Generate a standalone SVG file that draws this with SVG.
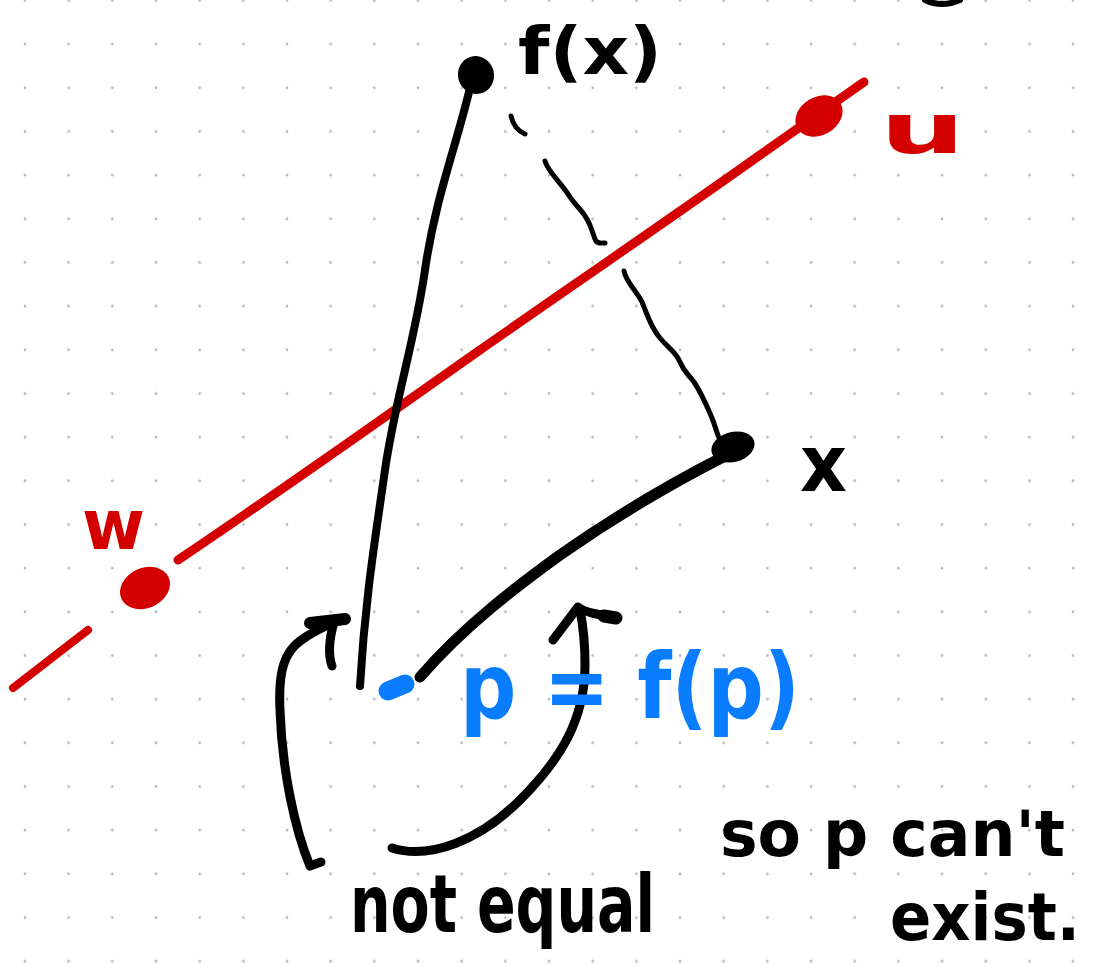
<svg xmlns="http://www.w3.org/2000/svg" width="1095" height="965" viewBox="0 0 1095 965">
  <defs>
    <pattern id="dots" patternUnits="userSpaceOnUse" x="3.17" y="-21.33" width="43.67" height="43.67">
      <circle cx="21.83" cy="21.83" r="1.4" fill="#b8b8b8"/>
    </pattern>
    <style>
      .ink { fill: none; stroke: #000; stroke-linecap: round; stroke-linejoin: round; }
      .red { fill: none; stroke: #d40000; stroke-linecap: round; stroke-linejoin: round; }
      .blue { fill: none; stroke: #0a7dff; stroke-linecap: round; stroke-linejoin: round; }
      .hand { font-family: "DejaVu Sans", "Liberation Sans", sans-serif; font-weight: bold; }
      .t-black { fill: #000; }
      .t-red { fill: #d40000; }
      .t-blue { fill: #0a7dff; }
    </style>
  </defs>
  <rect width="1095" height="965" fill="#ffffff"/>
  <rect width="1095" height="965" fill="url(#dots)"/>

  <g id="connectors">
    <!-- red line through w and u -->
    <path class="red" stroke-width="9" d="M 178,560 C 300,478 420,392 480,350 S 700,198 760,155 L 864,82"/>
    <path class="red" stroke-width="8" d="M 13,688 L 88,630"/>
    <!-- f(x) to p -->
    <path class="ink" stroke-width="8" d="M 470,88 C 455,150 435,200 425,270 S 395,400 385,470 S 365,600 360,686"/>
    <!-- dashed segment f(x) to x -->
    <path class="ink" stroke-width="5" d="M 511,116 C 513,125 518,131 525,134"/>
    <path class="ink" stroke-width="5" d="M 545,161 C 547,170 560,182 568,194 C 574,204 580,208 585,216 C 592,226 593,236 596,241 C 598,244 603,243 605,243"/>
    <path class="ink" stroke-width="5" d="M 624,271 C 626,282 636,290 642,302 C 648,316 650,326 660,338 C 668,348 676,352 680,362 C 684,372 688,374 694,382 C 702,394 706,404 712,418 C 716,428 717,434 720,440"/>
    <!-- x to p -->
    <path class="ink" stroke-width="11" d="M 725,456 C 670,484 610,520 560,555 C 520,584 465,625 420,677"/>
    <!-- arrow 1 -->
    <path class="ink" stroke-width="9" d="M 321,862 L 310,866 C 295,830 282,770 280,710 C 278,670 285,652 300,641 C 312,632 322,627 338,621"/>
    <path class="ink" stroke-width="12" d="M 310,623 L 345,619"/>
    <path class="ink" stroke-width="9" d="M 334,622 C 329,640 328,655 332,666"/>
    <!-- arrow 2 -->
    <path class="ink" stroke-width="9" d="M 392,848 C 430,860 480,840 520,800 C 560,760 585,720 585,665 C 585,640 583,625 580,610"/>
    <path class="ink" stroke-width="9" d="M 553,640 L 578,607 C 586,613 600,615 615,617"/>
    <path class="ink" stroke-width="13" d="M 604,616 L 616,618"/>
    <!-- partial stroke at top -->
    <path class="ink" stroke-width="6" d="M 925,0 Q 942,8 960,0"/>
  </g>

  <g id="node-fx">
    <ellipse cx="476" cy="75" rx="18" ry="19" fill="#000" transform="rotate(-15 476 75)"/>
    <text class="hand t-black" x="518" y="74" font-size="66" textLength="144" lengthAdjust="spacingAndGlyphs">f(x)</text>
  </g>

  <g id="node-x">
    <ellipse cx="733" cy="447" rx="22" ry="15" fill="#000" transform="rotate(-15 733 447)"/>
    <text class="hand t-black" x="800" y="491" font-size="78" textLength="47" lengthAdjust="spacingAndGlyphs">x</text>
  </g>

  <g id="node-u">
    <ellipse cx="819" cy="116" rx="25" ry="19" fill="#d40000" transform="rotate(-30 819 116)"/>
    <text class="hand t-red" x="880" y="153" font-size="70" textLength="85" lengthAdjust="spacingAndGlyphs">u</text>
  </g>

  <g id="node-w">
    <ellipse cx="145" cy="588" rx="26" ry="20" fill="#d40000" transform="rotate(-25 145 588)"/>
    <text class="hand t-red" x="82" y="549" font-size="70" textLength="63" lengthAdjust="spacingAndGlyphs">w</text>
  </g>

  <g id="node-p">
    <path class="blue" stroke-width="19" d="M 388,691 L 405,684"/>
    <text class="hand t-blue" x="460" y="718" font-size="90" textLength="340" lengthAdjust="spacingAndGlyphs">p = f(p)</text>
  </g>

  <g id="note">
    <text class="hand t-black" x="350" y="932" font-size="80" textLength="305" lengthAdjust="spacingAndGlyphs">not equal</text>
    <text class="hand t-black" x="720" y="856" font-size="64" textLength="345" lengthAdjust="spacingAndGlyphs">so p can't</text>
    <text class="hand t-black" x="890" y="940" font-size="66" textLength="190" lengthAdjust="spacingAndGlyphs">exist.</text>
  </g>
</svg>
